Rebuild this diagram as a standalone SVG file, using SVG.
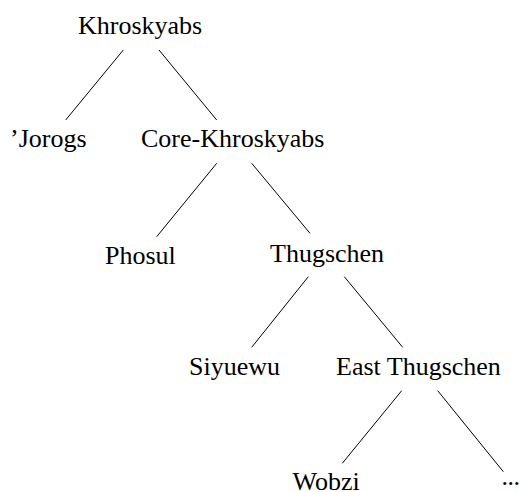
<svg xmlns="http://www.w3.org/2000/svg" width="519" height="492" viewBox="0 0 519 492">
<style>
text { font-family: "Liberation Serif", "Times New Roman", serif; font-size: 26px; fill: #000; }
.edge { stroke: #000; stroke-width: 1; fill: none; }
</style>
<rect width="519" height="492" fill="#fff"/>
<g id="connectors">
<line class="edge" x1="123.3" y1="50" x2="65.7" y2="120"/>
<line class="edge" x1="159" y1="50" x2="216.7" y2="120"/>
<line class="edge" x1="216.7" y1="163.3" x2="156.7" y2="236.7"/>
<line class="edge" x1="251.7" y1="163.3" x2="310" y2="233.3"/>
<line class="edge" x1="308.3" y1="276.7" x2="251.7" y2="347.3"/>
<line class="edge" x1="344.3" y1="276.7" x2="402.7" y2="347.3"/>
<line class="edge" x1="401.7" y1="390.7" x2="342.3" y2="463.3"/>
<line class="edge" x1="437.7" y1="390.7" x2="503.3" y2="471.7"/>
</g>
<g id="khroskyabs"><text x="78" y="34">Khroskyabs</text></g>
<g id="jorogs"><text x="10" y="147">’Jorogs</text></g>
<g id="core-khroskyabs"><text x="141" y="147">Core-Khroskyabs</text></g>
<g id="phosul"><text x="105" y="264">Phosul</text></g>
<g id="thugschen"><text x="270" y="261.5">Thugschen</text></g>
<g id="siyuewu"><text x="189" y="375">Siyuewu</text></g>
<g id="east-thugschen"><text x="336" y="375">East Thugschen</text></g>
<g id="wobzi"><text x="292.5" y="489.5">Wobzi</text></g>
<g id="ellipsis"><text x="501.5" y="485" letter-spacing="-0.5">...</text></g>
</svg>
